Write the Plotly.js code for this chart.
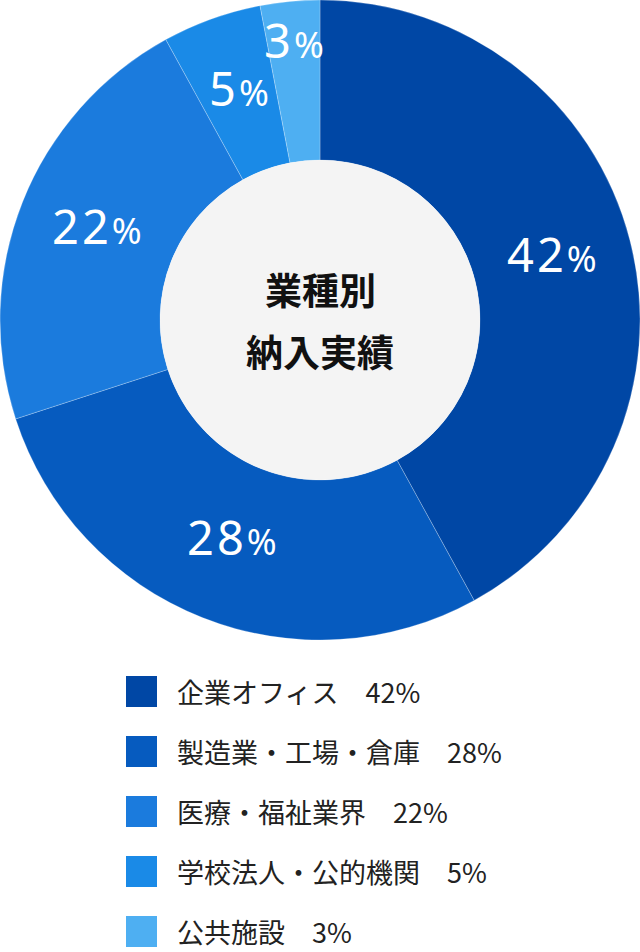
<!DOCTYPE html>
<html>
<head>
<meta charset="utf-8">
<script src="https://cdn.plot.ly/plotly-3.0.1.min.js"></script>
<style>
  html, body { margin: 0; padding: 0; background: #fff; }
  #chart { width: 640px; height: 952px; }
</style>
</head>
<body>
<div id="chart"></div>
<script>
const categories = ['企業オフィス', '製造業・工場・倉庫', '医療・福祉業界', '学校法人・公的機関', '公共施設'];
const shares = [42, 28, 22, 5, 3];
const colors = ['#0047a5', '#065bbf', '#1b7bdd', '#1a8ae7', '#4eaff2'];
const centerTitle = ['業種別', '納入実績'];

const W = 640, H = 952;
const PIE = 640;
const px = x => x / W;
const py = y => 1 - y / H;

const jp = '"Noto Sans CJK JP", "Noto Sans", sans-serif';

const trace = {
  type: 'pie',
  labels: categories,
  values: shares,
  sort: false,
  direction: 'clockwise',
  rotation: 0,
  hole: 0.5,
  domain: { x: [0, 1], y: [1 - PIE / H, 1] },
  marker: {
    colors: colors,
    line: { color: 'rgba(255,255,255,0.35)', width: 0.7 }
  },
  textinfo: 'none',
  hoverinfo: 'label+percent',
  showlegend: false
};

const shapes = [{
  type: 'circle',
  xref: 'paper', yref: 'paper',
  x0: px(160), x1: px(480),
  y0: py(480), y1: py(160),
  fillcolor: '#f4f4f4',
  line: { width: 0 },
  layer: 'above'
}];

const annotations = [];

// percentage labels on the ring, along each slice's bisector
const cx = PIE / 2, cy = PIE / 2, R = PIE / 2;
const ringMid = R * 0.75;
const labelHalfW = 26;
const total = shares.reduce((a, b) => a + b, 0);
let acc = 0;
shares.forEach((v) => {
  const half = Math.PI * v / total;
  const mid = 2 * Math.PI * acc / total + half;
  acc += v;
  const r = Math.max(ringMid, labelHalfW / Math.tan(half));
  annotations.push({
    text: '<span style="letter-spacing:3px">' + v + '</span><span style="font-size:36px">%</span>',
    xref: 'paper', yref: 'paper',
    x: px(cx + r * Math.sin(mid)),
    y: py(cy - r * Math.cos(mid)),
    xanchor: 'center', yanchor: 'middle',
    yshift: 6,
    showarrow: false,
    font: { family: '"Noto Sans", sans-serif', size: 47, color: '#ffffff' }
  });
});

// center title
centerTitle.forEach((t, i) => {
  annotations.push({
    text: '<b>' + t + '</b>',
    xref: 'paper', yref: 'paper',
    x: 0.5, y: py(289 + i * 62),
    xanchor: 'center', yanchor: 'middle',
    showarrow: false,
    font: { family: jp, size: 37, color: '#111111' }
  });
});

// legend rows
const legendTop = 676, rowGap = 60, box = 31;
categories.forEach((c, i) => {
  const top = legendTop + i * rowGap;
  shapes.push({
    type: 'rect',
    xref: 'paper', yref: 'paper',
    x0: px(126), x1: px(126 + box),
    y0: py(top + box), y1: py(top),
    fillcolor: colors[i],
    line: { width: 0 }
  });
  annotations.push({
    text: c + '\u3000' + shares[i] + '%',
    xref: 'paper', yref: 'paper',
    x: px(175), y: py(top + box / 2),
    xanchor: 'left', yanchor: 'middle',
    showarrow: false,
    font: { family: jp, size: 27, color: '#222222' }
  });
});

const layout = {
  width: W,
  height: H,
  margin: { l: 0, r: 0, t: 0, b: 0 },
  paper_bgcolor: '#ffffff',
  showlegend: false,
  shapes: shapes,
  annotations: annotations
};

Plotly.newPlot('chart', [trace], layout, { displayModeBar: false, staticPlot: true });
</script>
</body>
</html>
